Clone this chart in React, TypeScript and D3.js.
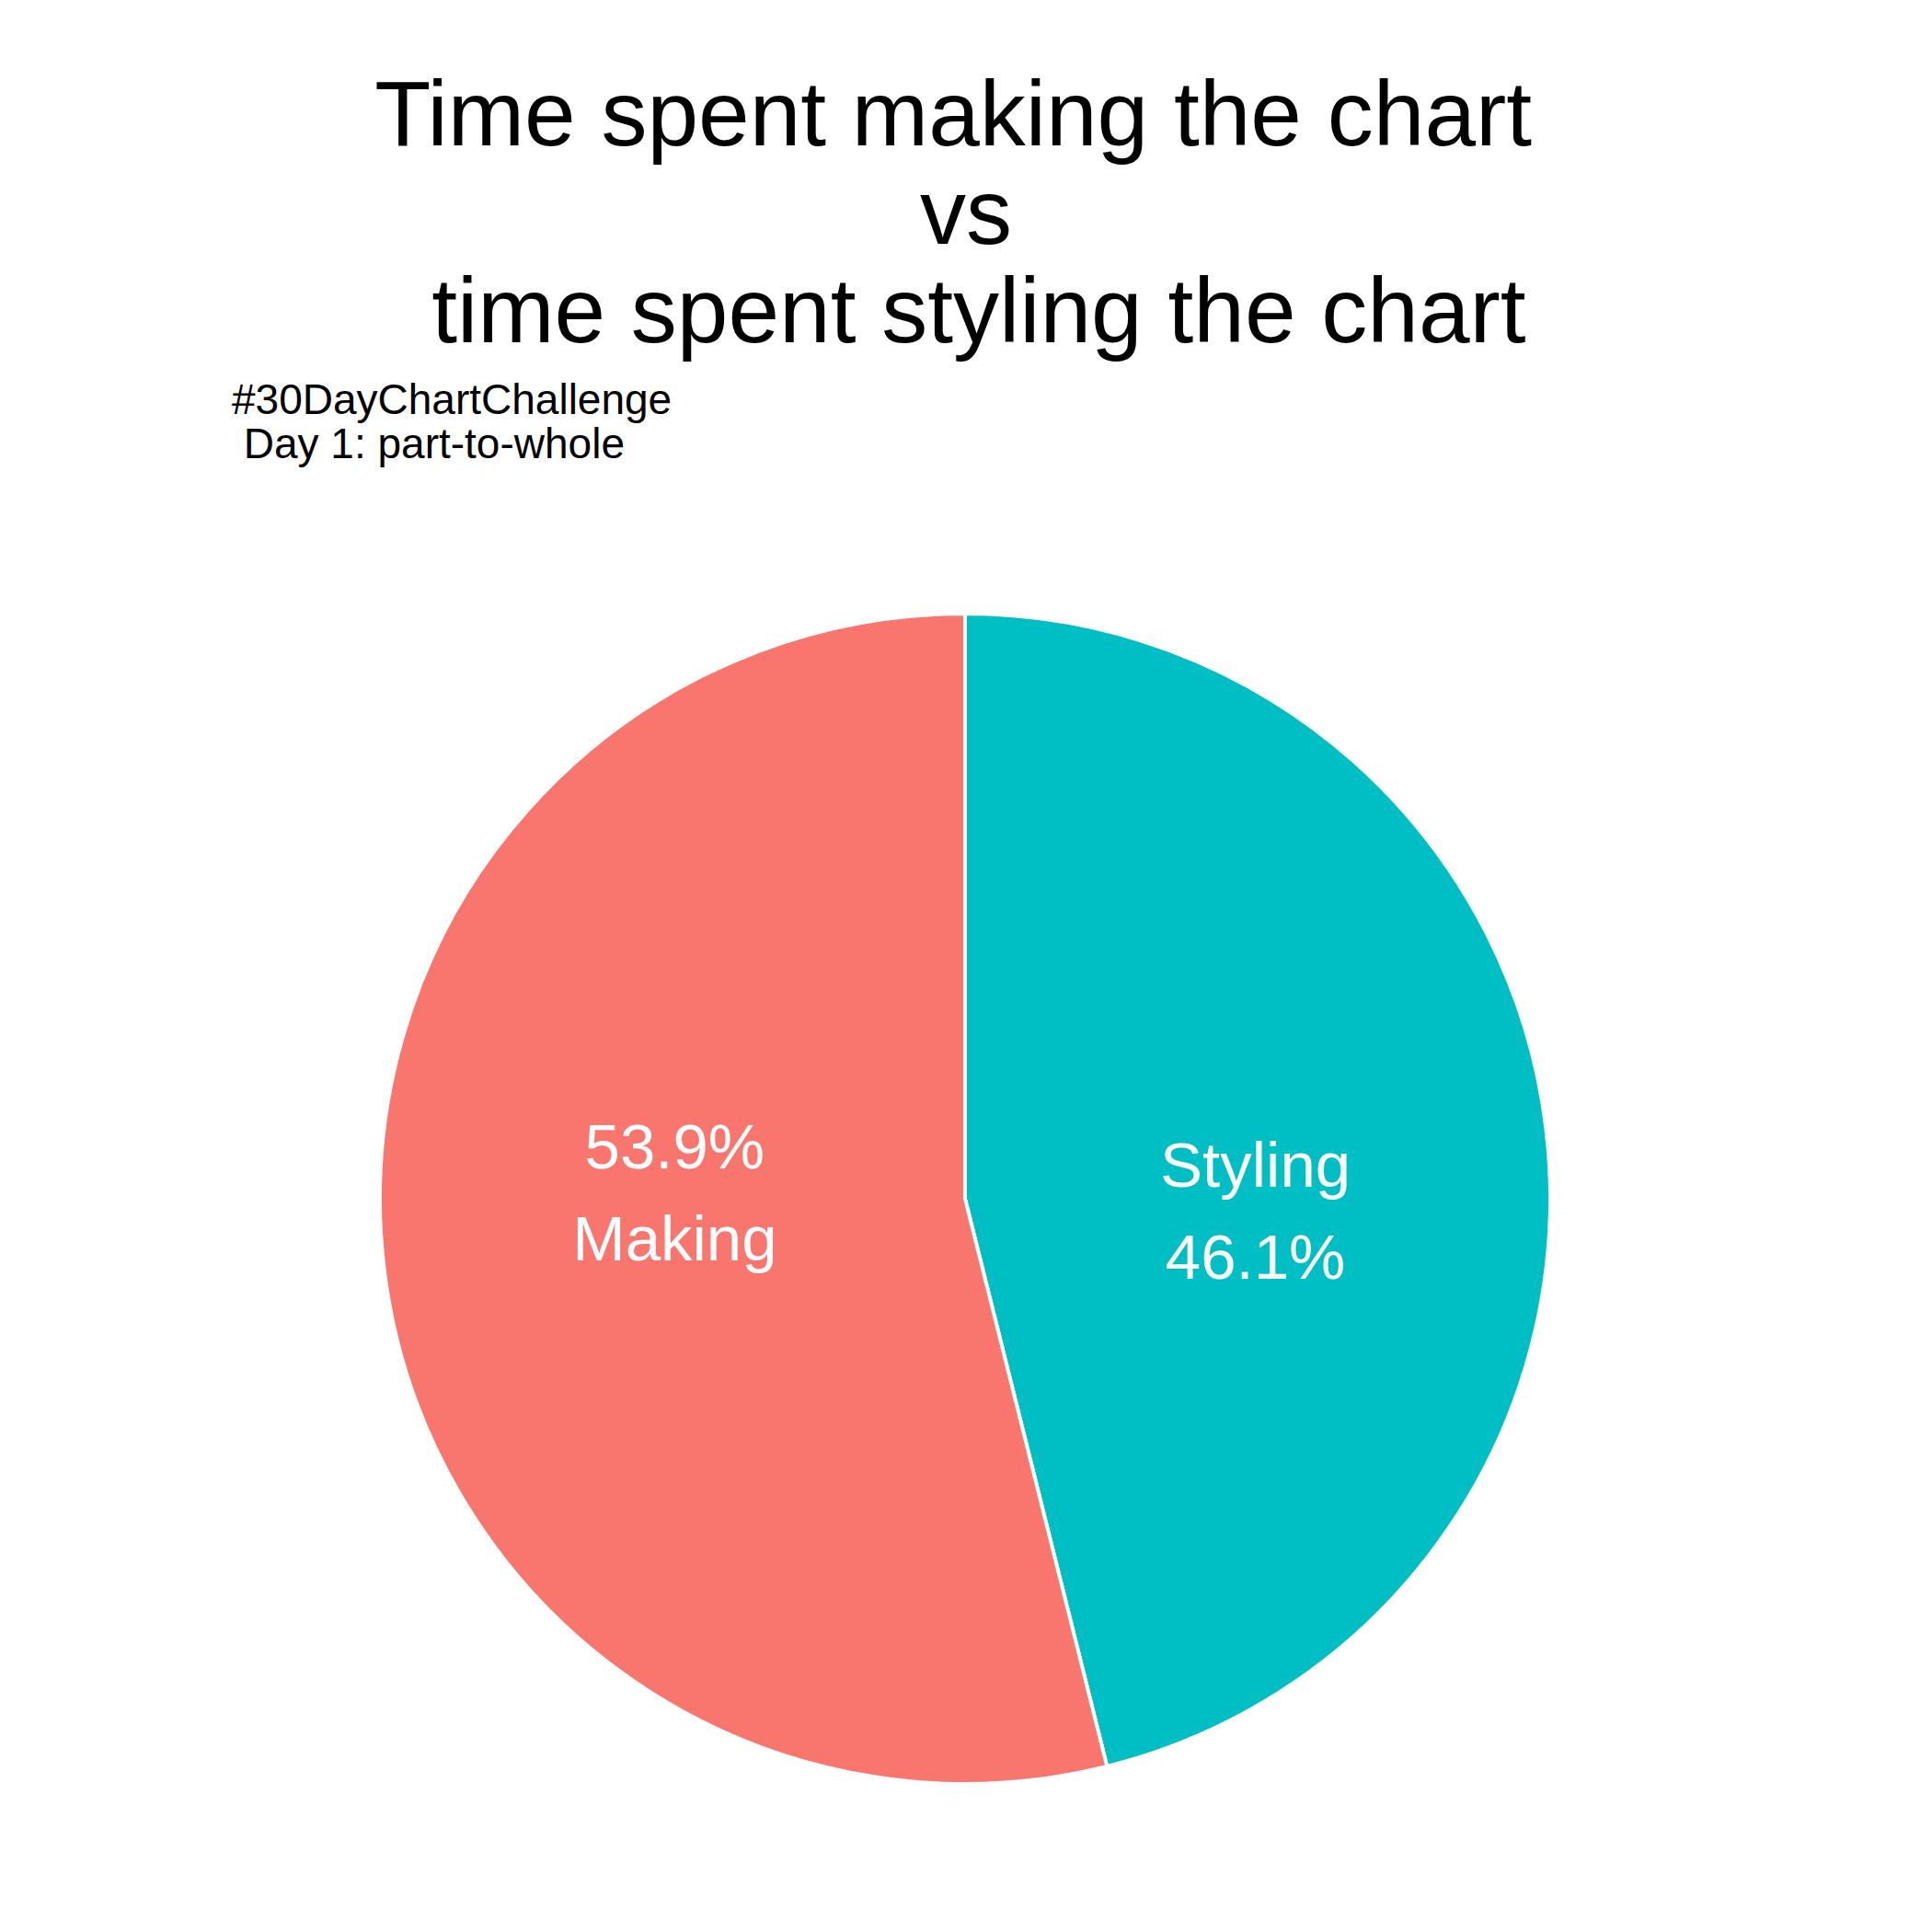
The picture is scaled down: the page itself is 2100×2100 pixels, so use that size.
import React, { useRef, useEffect } from 'react'
import { select, pie, arc, format } from 'd3'

// slices, in the order they run clockwise from 12 o'clock
const categories = ['Styling', 'Making']
const shares = [46.1, 53.9]
const colours = ['#00BFC4', '#F8766D']
// which slices print the percentage above the name
const pctFirst = [false, true]

const titleLines = ['Time spent making the chart ', 'vs', ' time spent styling the chart']
const subtitleLines = ['#30DayChartChallenge', ' Day 1: part-to-whole']

const W = 2100
const H = 2100
const FONT = '"Liberation Sans", Arial, sans-serif'

const App = () => {
    const svgRef = useRef<SVGSVGElement>(null)

    useEffect(() => {
        const svg = select(svgRef.current)
        svg.selectAll('*').remove()

        const cx = 1049
        const cy = 1303
        const radius = 636

        // title
        svg.append('g')
            .selectAll('text')
            .data(titleLines)
            .join('text')
            .attr('x', 1050)
            .attr('y', (d, i) => 158 + i * 107)
            .attr('text-anchor', 'middle')
            .style('white-space', 'pre')
            .style('font-family', FONT)
            .style('font-size', '100px')
            .attr('fill', '#000')
            .text(d => d)

        // subtitle
        svg.append('g')
            .selectAll('text')
            .data(subtitleLines)
            .join('text')
            .attr('x', 252)
            .attr('y', (d, i) => 450 + i * 48)
            .attr('text-anchor', 'start')
            .style('white-space', 'pre')
            .style('font-family', FONT)
            .style('font-size', '46px')
            .attr('fill', '#000')
            .text(d => d)

        const slices = pie<number>()
            .sort(null)
            .value(d => d)(shares)

        const sliceArc = arc<any>()
            .innerRadius(0)
            .outerRadius(radius)

        const labelArc = arc<any>()
            .innerRadius(0)
            .outerRadius(radius)

        const g = svg.append('g')
            .attr('transform', `translate(${cx},${cy})`)

        g.selectAll('path')
            .data(slices)
            .join('path')
            .attr('d', sliceArc)
            .attr('fill', (d, i) => colours[i])
            .attr('stroke', '#fff')
            .attr('stroke-width', 4)

        const fmt = format('.1f')
        const nudge = [10, -10]

        const labels = g.selectAll('text.lab')
            .data(slices)
            .join('text')
            .attr('class', 'lab')
            .attr('text-anchor', 'middle')
            .style('font-family', FONT)
            .style('font-size', '69px')
            .attr('fill', '#fff')

        labels.each(function (d, i) {
            const [x] = labelArc.centroid(d)
            const pct = `${fmt(shares[i])}%`
            const lines = pctFirst[i] ? [pct, categories[i]] : [categories[i], pct]
            select(this)
                .selectAll('tspan')
                .data(lines)
                .join('tspan')
                .attr('x', x)
                .attr('y', (l, j) => -23 + nudge[i] + j * 100)
                .text(l => l)
        })
    }, [])

    return (
        <svg
            ref={svgRef}
            width={W}
            height={H}
            style={{ position: 'absolute', left: 0, top: 0, background: '#fff' }}
        />
    )
}

export default App
